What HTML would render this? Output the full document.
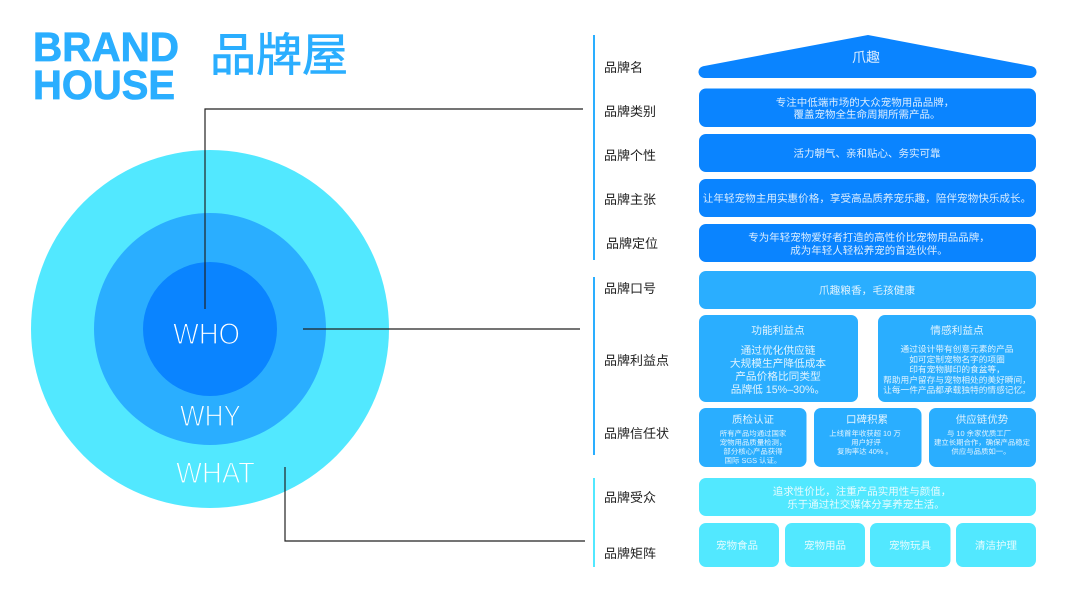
<!DOCTYPE html>
<html><head><meta charset="utf-8"><style>
html,body{margin:0;padding:0;background:#fff;width:1067px;height:600px;overflow:hidden}
svg{display:block}
text{font-family:"Liberation Sans","Noto Sans CJK SC",sans-serif;text-rendering:geometricPrecision}
.l{font-size:13px;fill:#222}
.c{text-anchor:middle;fill:#fff;fill-opacity:.85}
</style></head><body>
<svg width="1067" height="600" viewBox="0 0 1067 600" xmlns="http://www.w3.org/2000/svg">
<rect width="1067" height="600" fill="#fff"/>
<text x="33" y="61" font-size="41" font-weight="700" fill="#2aaeff" stroke="#2aaeff" stroke-width=".8" textLength="146" lengthAdjust="spacingAndGlyphs">BRAND</text>
<text x="33" y="99" font-size="41" font-weight="700" fill="#2aaeff" stroke="#2aaeff" stroke-width=".8" textLength="142" lengthAdjust="spacingAndGlyphs">HOUSE</text>
<text x="210" y="71" font-size="46" fill="#2aaeff" stroke="#2aaeff" stroke-width=".7">品牌屋</text>

<circle cx="210" cy="329" r="179" fill="#52e8ff"/>
<circle cx="210" cy="329" r="116" fill="#2aaeff"/>
<circle cx="210" cy="329" r="67" fill="#0a84ff"/>
<text x="173" y="344" font-size="30" fill="#fff" stroke="#0a84ff" stroke-width="1.2" textLength="67" lengthAdjust="spacingAndGlyphs">WHO</text>
<text x="180" y="426" font-size="30" fill="#fff" stroke="#2aaeff" stroke-width="1.2" textLength="61" lengthAdjust="spacingAndGlyphs">WHY</text>
<text x="176" y="483" font-size="30" fill="#fff" stroke="#52e8ff" stroke-width="1.2" textLength="79" lengthAdjust="spacingAndGlyphs">WHAT</text>

<g fill="none" stroke="#222" stroke-width="1.2">
<path d="M205 309V109H583"/>
<path d="M303 329H580"/>
<path d="M285 467V541H585"/>
</g>

<rect x="593" y="35" width="2" height="225" fill="#2aaeff"/>
<rect x="593" y="277" width="2" height="178" fill="#2aaeff"/>
<rect x="593" y="478" width="2" height="89" fill="#52e8ff"/>

<text class="l" x="604" y="72">品牌名</text>
<text class="l" x="604" y="116">品牌类别</text>
<text class="l" x="604" y="160">品牌个性</text>
<text class="l" x="604" y="204">品牌主张</text>
<text class="l" x="606" y="248">品牌定位</text>
<text class="l" x="604" y="293">品牌口号</text>
<text class="l" x="604" y="365">品牌利益点</text>
<text class="l" x="604" y="438">品牌信任状</text>
<text class="l" x="604" y="502">品牌受众</text>
<text class="l" x="604" y="558">品牌矩阵</text>

<path d="M868 35L703 66.200A6 6 0 0 0 704 78H1031A6 6 0 0 0 1032 66.200Z" fill="#0a84ff"/>
<text class="c" x="866" y="62" font-size="14">爪趣</text>

<g fill="#0a84ff">
<rect x="699" y="88.500" width="337" height="38.500" rx="7"/>
<rect x="699" y="134" width="337" height="38" rx="7"/>
<rect x="699" y="179" width="337" height="38" rx="7"/>
<rect x="699" y="224" width="337" height="38" rx="7"/>
</g>
<g font-size="10.500">
<text class="c" x="865" y="106">专注中低端市场的大众宠物用品品牌，</text>
<text class="c" x="867" y="118">覆盖宠物全生命周期所需产品。</text>
<text class="c" x="867" y="157">活力朝气、亲和贴心、务实可靠</text>
<text class="c" x="867" y="202" font-size="10.600">让年轻宠物主用实惠价格，享受高品质养宠乐趣，陪伴宠物快乐成长。</text>
<text class="c" x="869" y="241">专为年轻宠物爱好者打造的高性价比宠物用品品牌，</text>
<text class="c" x="869" y="254">成为年轻人轻松养宠的首选伙伴。</text>
</g>

<g fill="#2aaeff">
<rect x="699" y="271" width="337" height="38" rx="7"/>
<rect x="699" y="315" width="159" height="87" rx="7"/>
<rect x="878" y="315" width="158" height="87" rx="7"/>
<rect x="699" y="408" width="107.500" height="59" rx="7"/>
<rect x="814" y="408" width="107.500" height="59" rx="7"/>
<rect x="929" y="408" width="107" height="59" rx="7"/>
</g>
<text class="c" x="867" y="294" font-size="10.700">爪趣粮香，毛孩健康</text>
<g font-size="10.700">
<text class="c" x="778" y="334">功能利益点</text>
<text class="c" x="778" y="354">通过优化供应链</text>
<text class="c" x="778" y="367">大规模生产降低成本</text>
<text class="c" x="778" y="380">产品价格比同类型</text>
<text class="c" x="778" y="393">品牌低 15%–30%。</text>
<text class="c" x="957" y="334">情感利益点</text>
</g>
<g font-size="8.700">
<text class="c" x="957" y="352">通过设计带有创意元素的产品</text>
<text class="c" x="957" y="362.500">如可定制宠物名字的项圈</text>
<text class="c" x="957" y="372.500">印有宠物脚印的食盆等，</text>
<text class="c" x="957" y="383">帮助用户留存与宠物相处的美好瞬间，</text>
<text class="c" x="957" y="393">让每一件产品都承载独特的情感记忆。</text>
</g>
<g font-size="10.500">
<text class="c" x="753" y="423">质检认证</text>
<text class="c" x="867" y="423">口碑积累</text>
<text class="c" x="982" y="423">供应链优势</text>
</g>
<g font-size="7.400">
<text class="c" x="753" y="436">所有产品均通过国家</text>
<text class="c" x="753" y="445">宠物用品质量检测，</text>
<text class="c" x="753" y="454">部分核心产品获得</text>
<text class="c" x="753" y="463">国际 SGS 认证。</text>
<text class="c" x="865" y="436">上线首年收获超 10 万</text>
<text class="c" x="866" y="445">用户好评</text>
<text class="c" x="865" y="454">复购率达 40% 。</text>
<text class="c" x="979" y="436">与 10 余家优质工厂</text>
<text class="c" x="982" y="445">建立长期合作，确保产品稳定</text>
<text class="c" x="981" y="454">供应与品质如一。</text>
</g>

<g fill="#52e8ff">
<rect x="699" y="478" width="337" height="38" rx="7"/>
<rect x="699" y="523" width="80" height="44" rx="7"/>
<rect x="785" y="523" width="80" height="44" rx="7"/>
<rect x="870" y="523" width="80.500" height="44" rx="7"/>
<rect x="956" y="523" width="80" height="44" rx="7"/>
</g>
<g font-size="10.500">
<text class="c" x="862" y="495">追求性价比，注重产品实用性与颜值，</text>
<text class="c" x="866" y="508">乐于通过社交媒体分享养宠生活。</text>
<text class="c" x="737" y="549">宠物食品</text>
<text class="c" x="825" y="549">宠物用品</text>
<text class="c" x="910" y="549">宠物玩具</text>
<text class="c" x="996" y="549">清洁护理</text>
</g>
</svg>
</body></html>
